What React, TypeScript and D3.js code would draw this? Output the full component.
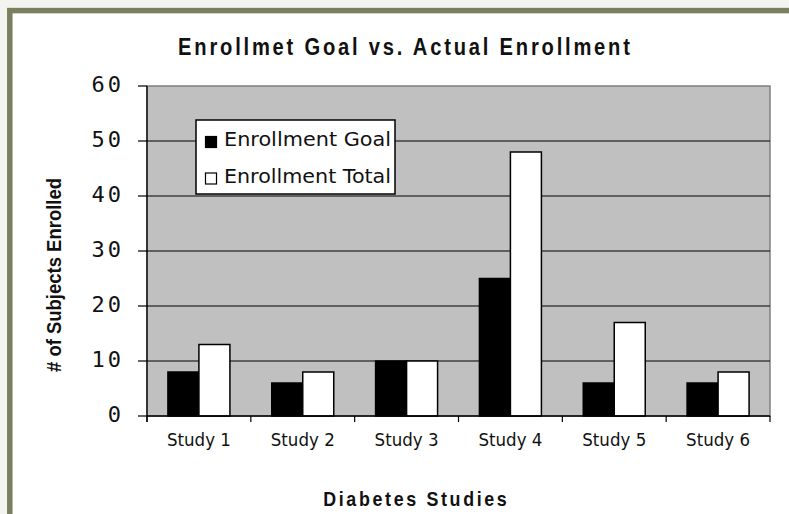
import React from "react";
import * as d3 from "d3";

const width = 789;
const height = 514;

const studies = ["Study 1", "Study 2", "Study 3", "Study 4", "Study 5", "Study 6"];
const seriesNames = ["Enrollment Goal", "Enrollment Total"];
const goal = [8, 6, 10, 25, 6, 6];
const total = [13, 8, 10, 48, 17, 8];
const yTicks = [0, 10, 20, 30, 40, 50, 60];
const seriesFill = ["#000000", "#ffffff"];

// plot box (as measured on the reference)
const plot = { left: 147, right: 770, top: 86, bottom: 416 };

const App = () => {
    const x = d3.scaleBand<string>().domain(studies).range([plot.left, plot.right]).padding(0);
    const xInner = d3.scaleBand<string>().domain(seriesNames).range([0, x.bandwidth()])
        .paddingInner(0).paddingOuter(0.675);
    const y = d3.scaleLinear().domain([0, 60]).range([plot.bottom, plot.top]);

    const rows = studies.map((s, i) => ({ study: s, values: [goal[i], total[i]] }));
    const bandEdges = [...studies.map(s => x(s) as number), plot.right];

    return (
        <svg width={width} height={height} style={{ position: "absolute", left: 0, top: 0 }}>
            <rect width={width} height={height} fill="#f3f3ef" />
            <rect x={9.8} y={10.6} width={820} height={600} fill="#ffffff" stroke="#7b7e5f" strokeWidth={5.5} />

            <text transform="translate(404,55) scale(0.84,1)" textAnchor="middle"
                  textLength={538} lengthAdjust="spacing"
                  fontFamily="Liberation Sans, Arial, sans-serif" fontWeight="bold" fontSize={24} fill="#111">
                Enrollmet Goal vs. Actual Enrollment
            </text>

            {/* plot area */}
            <rect x={plot.left} y={plot.top} width={plot.right - plot.left} height={plot.bottom - plot.top}
                  fill="#c0c0c0" stroke="#808080" strokeWidth={1.5} />
            {yTicks.filter(t => t > 0 && t < 60).map(t =>
                <line key={t} x1={plot.left} x2={plot.right} y1={y(t)} y2={y(t)} stroke="#000" strokeWidth={1.2} />
            )}

            {rows.map(r =>
                <g key={r.study} transform={`translate(${x(r.study)},0)`}>
                    {r.values.map((v, j) =>
                        <rect key={j} x={xInner(seriesNames[j])} y={y(v)} width={xInner.bandwidth()}
                              height={y(0) - y(v)} fill={seriesFill[j]} stroke="#000" strokeWidth={1.5} />
                    )}
                </g>
            )}

            {/* axes */}
            <line x1={plot.left} x2={plot.left} y1={plot.top} y2={plot.bottom + 6} stroke="#000" strokeWidth={1.3} />
            <line x1={plot.left} x2={plot.right} y1={plot.bottom} y2={plot.bottom} stroke="#000" strokeWidth={1.5} />
            {yTicks.map(t =>
                <g key={t}>
                    <line x1={plot.left - 9} x2={plot.left} y1={y(t)} y2={y(t)} stroke="#000" strokeWidth={1.2} />
                    <text x={124} y={y(t) + 6} textAnchor="end" fontFamily="DejaVu Sans Mono, monospace"
                          fontSize={22} letterSpacing={3} fill="#111">{t}</text>
                </g>
            )}
            {bandEdges.map((e, i) =>
                <line key={i} x1={e} x2={e} y1={plot.bottom} y2={plot.bottom + 6} stroke="#000" strokeWidth={1.2} />
            )}
            {studies.map(s =>
                <text key={s} x={(x(s) as number) + x.bandwidth() / 2} y={446} textAnchor="middle"
                      textLength={64} lengthAdjust="spacingAndGlyphs"
                      fontFamily="DejaVu Sans, sans-serif" fontSize={18} fill="#111">{s}</text>
            )}

            {/* legend */}
            <rect x={196} y={120} width={199} height={74} fill="#fff" stroke="#000" strokeWidth={1.5} />
            {seriesNames.map((n, i) =>
                <g key={n} transform={`translate(0,${i * 36.5})`}>
                    <rect x={205.5} y={136.5} width={11} height={11} fill={seriesFill[i]} stroke="#000" strokeWidth={1.2} />
                    <text x={224} y={146} textLength={167} lengthAdjust="spacingAndGlyphs"
                          fontFamily="DejaVu Sans, sans-serif" fontSize={20} fill="#111">{n}</text>
                </g>
            )}

            <text transform="translate(415,505.5) scale(0.85,1)" textAnchor="middle"
                  textLength={216} lengthAdjust="spacing"
                  fontFamily="Liberation Sans, Arial, sans-serif" fontWeight="bold" fontSize={21} fill="#111">
                Diabetes Studies
            </text>
            <text transform="translate(61,275) rotate(-90)" textAnchor="middle"
                  textLength={194} lengthAdjust="spacingAndGlyphs"
                  fontFamily="Liberation Sans, Arial, sans-serif" fontWeight="bold" fontSize={20} fill="#111">
                # of Subjects Enrolled
            </text>
        </svg>
    );
};

export default App;
